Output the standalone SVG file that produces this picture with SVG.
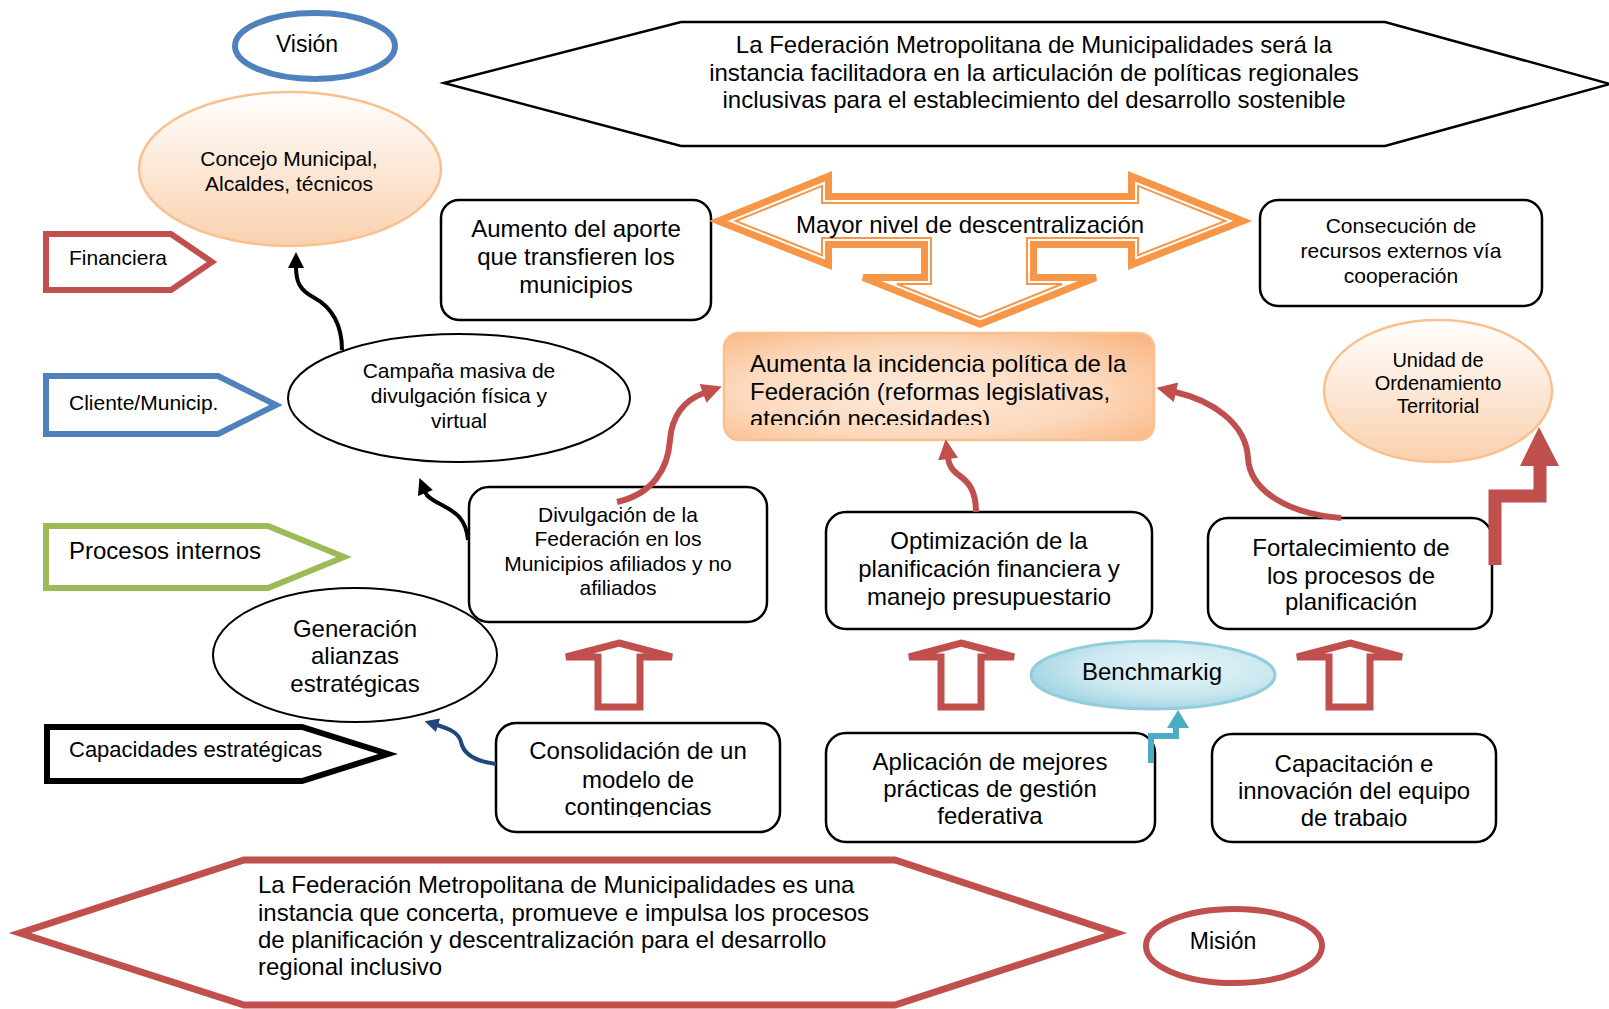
<svg xmlns="http://www.w3.org/2000/svg" width="1609" height="1009" viewBox="0 0 1609 1009">
<defs>
<style>
.t{font-family:"Liberation Sans",Arial,Helvetica,sans-serif;fill:#000}
.c{text-anchor:middle}
.box{fill:#fff;stroke:#000;stroke-width:2.5}
.ell{fill:#fff;stroke:#000;stroke-width:2}
.peach{fill:url(#gPeach);stroke:#FAC08F;stroke-width:2.5}
.tab{fill:#fff;stroke-width:6;stroke-linejoin:miter}
.up{fill:#fff;stroke:#C0504D;stroke-width:7;stroke-linejoin:miter}
.cv{fill:none;stroke-linecap:butt}
.f21{font-size:21px}
.f22{font-size:22px}
.f23{font-size:23px}
.f24{font-size:24px}
</style>
<linearGradient id="gPeach" x1="0" y1="0" x2="0" y2="1"><stop offset="0" stop-color="#FFFFFF"/><stop offset="1" stop-color="#FAD0AD"/></linearGradient>
<radialGradient id="gAum" cx="0.45" cy="0.55" r="0.75"><stop offset="0" stop-color="#FEEADB"/><stop offset="0.55" stop-color="#FCD9BD"/><stop offset="1" stop-color="#F9B47F"/></radialGradient>
<radialGradient id="gBench" cx="0.6" cy="0.4" r="0.65"><stop offset="0" stop-color="#E6F4F8"/><stop offset="0.6" stop-color="#CBE8F0"/><stop offset="1" stop-color="#9DD3E1"/></radialGradient>
<marker id="mBlk" markerUnits="userSpaceOnUse" markerWidth="18" markerHeight="18" refX="1" refY="8" orient="auto" overflow="visible"><path d="M0,0 L16,8 L0,16 Z" fill="#000"/></marker>
<marker id="mRed" markerUnits="userSpaceOnUse" markerWidth="22" markerHeight="22" refX="1" refY="10" orient="auto" overflow="visible"><path d="M0,0 L20,10 L0,20 Z" fill="#C0504D"/></marker>
<marker id="mBlu" markerUnits="userSpaceOnUse" markerWidth="16" markerHeight="16" refX="1" refY="7" orient="auto" overflow="visible"><path d="M0,0 L14,7 L0,14 Z" fill="#1F497D"/></marker>
<clipPath id="clipAum"><rect x="724" y="333" width="430" height="92"/></clipPath>
<clipPath id="clipCons"><rect x="496" y="723" width="284" height="94"/></clipPath>
<clipPath id="clipCap"><rect x="1212" y="734" width="284" height="93"/></clipPath>
</defs>

<rect x="0" y="0" width="1609" height="1009" fill="#fff"/>

<g id="vision-statement">
<polygon points="444,83 681,22 1385,22 1610,84 1385,146 681,146" fill="#fff" stroke="#000" stroke-width="2.5"/>
<text class="t c f24"><tspan x="1034" y="53">La Federación Metropolitana de Municipalidades será la</tspan><tspan x="1034" y="81">instancia facilitadora en la articulación de políticas regionales</tspan><tspan x="1034" y="108">inclusivas para el establecimiento del desarrollo sostenible</tspan></text>
</g>

<g id="vision-label">
<ellipse cx="315" cy="46" rx="80" ry="33" fill="#fff" stroke="#4F81BD" stroke-width="6"/>
<text class="t c f23" x="307" y="52">Visión</text>
</g>

<g id="concejo">
<ellipse class="peach" cx="290" cy="169" rx="151" ry="77"/>
<text class="t c f21"><tspan x="289" y="166">Concejo Municipal,</tspan><tspan x="289" y="191">Alcaldes, técnicos</tspan></text>
</g>

<g id="financiera">
<polygon class="tab" stroke="#C0504D" points="46,234 171,234 212,262 171,290 46,290"/>
<text class="t f21" x="69" y="265">Financiera</text>
</g>

<g id="cliente">
<polygon class="tab" stroke="#4F81BD" points="46,376 218,376 276,405 218,434 46,434"/>
<text class="t f21" x="69" y="410">Cliente/Municip.</text>
</g>

<g id="procesos">
<polygon class="tab" stroke="#9BBB59" points="46,526 268,526 344,557 268,588 46,588"/>
<text class="t f24" x="69" y="559">Procesos internos</text>
</g>

<g id="capacidades">
<polygon class="tab" stroke="#000" stroke-width="7" points="47,727 302,727 388,754 302,781 47,781"/>
<text class="t f22" x="69" y="757">Capacidades estratégicas</text>
</g>

<g id="aumento-aporte">
<rect class="box" x="441" y="200" width="270" height="120" rx="18"/>
<text class="t c f24"><tspan x="576" y="237">Aumento del aporte</tspan><tspan x="576" y="265">que transfieren los</tspan><tspan x="576" y="293">municipios</tspan></text>
</g>

<g id="descentralizacion">
<path d="M718.3,221 L828.5,176.2 L828.5,196.5 L1131.5,196.5 L1131.5,176.2 L1242.7,221 L1131.5,264.8 L1131.5,244.5 L1033.5,244.5 L1033.5,277.5 L1095.8,277.5 L980,324.2 L863.2,277.5 L924.5,277.5 L924.5,244.5 L828.5,244.5 L828.5,264.8 Z" fill="#fff" stroke="#F79646" stroke-width="7" stroke-linejoin="miter"/>
<path d="M735.7,221 L822,185.9 L822,203 L1138,203 L1138,185.9 L1225.3,221 L1138,255.2 L1138,238 L1027,238 L1027,284 L1062.1,284 L980,317.2 L896.9,284 L931,284 L931,238 L822,238 L822,255.2 Z" fill="none" stroke="#F79646" stroke-width="2" stroke-linejoin="miter"/>
<text class="t c" style="font-size:24px" x="970" y="233">Mayor nivel de descentralización</text>
</g>

<g id="consecucion">
<rect class="box" x="1260" y="200" width="282" height="106" rx="18"/>
<text class="t c f21"><tspan x="1401" y="233">Consecución de</tspan><tspan x="1401" y="258">recursos externos vía</tspan><tspan x="1401" y="283">cooperación</tspan></text>
</g>

<g id="incidencia">
<rect x="724" y="333" width="430" height="107" rx="15" fill="url(#gAum)" stroke="#FAC08F" stroke-width="2.5"/>
<text class="t f24" clip-path="url(#clipAum)"><tspan x="750" y="372">Aumenta la incidencia política de la</tspan><tspan x="750" y="400">Federación (reformas legislativas,</tspan><tspan x="750" y="427">atención necesidades)</tspan></text>
</g>

<g id="unidad">
<ellipse class="peach" cx="1438" cy="391" rx="114" ry="71"/>
<text class="t c" style="font-size:20px"><tspan x="1438" y="367">Unidad de</tspan><tspan x="1438" y="390">Ordenamiento</tspan><tspan x="1438" y="413">Territorial</tspan></text>
</g>

<g id="campana">
<ellipse class="ell" cx="459" cy="398" rx="171" ry="64"/>
<text class="t c f21"><tspan x="459" y="378">Campaña masiva de</tspan><tspan x="459" y="403">divulgación física y</tspan><tspan x="459" y="428">virtual</tspan></text>
</g>

<g id="divulgacion">
<rect class="box" x="469" y="487" width="298" height="135" rx="20"/>
<text class="t c f21"><tspan x="618" y="522">Divulgación de la</tspan><tspan x="618" y="546">Federación en los</tspan><tspan x="618" y="571">Municipios afiliados y no</tspan><tspan x="618" y="595">afiliados</tspan></text>
</g>

<g id="optimizacion">
<rect class="box" x="826" y="512" width="326" height="117" rx="20"/>
<text class="t c f24"><tspan x="989" y="549">Optimización de la</tspan><tspan x="989" y="577">planificación financiera y</tspan><tspan x="989" y="605">manejo presupuestario</tspan></text>
</g>

<g id="fortalecimiento">
<rect class="box" x="1208" y="518" width="284" height="111" rx="20"/>
<text class="t c f24"><tspan x="1351" y="556">Fortalecimiento de</tspan><tspan x="1351" y="584">los procesos de</tspan><tspan x="1351" y="610">planificación</tspan></text>
</g>

<g id="generacion">
<ellipse class="ell" cx="355" cy="655" rx="142" ry="67"/>
<text class="t c f24"><tspan x="355" y="637">Generación</tspan><tspan x="355" y="664">alianzas</tspan><tspan x="355" y="692">estratégicas</tspan></text>
</g>

<g id="benchmarkig">
<ellipse cx="1153" cy="675" rx="122" ry="34" fill="url(#gBench)" stroke="#93CDDD" stroke-width="3"/>
<text class="t c f24" x="1152" y="680">Benchmarkig</text>
</g>

<g id="consolidacion">
<rect class="box" x="496" y="723" width="284" height="109" rx="20"/>
<text class="t c f24" clip-path="url(#clipCons)"><tspan x="638" y="759">Consolidación de un</tspan><tspan x="638" y="788">modelo de</tspan><tspan x="638" y="815">contingencias</tspan></text>
</g>

<g id="aplicacion">
<rect class="box" x="826" y="733" width="329" height="109" rx="20"/>
<text class="t c f24"><tspan x="990" y="770">Aplicación de mejores</tspan><tspan x="990" y="797">prácticas de gestión</tspan><tspan x="990" y="824">federativa</tspan></text>
</g>

<g id="capacitacion">
<rect class="box" x="1212" y="734" width="284" height="108" rx="20"/>
<text class="t c f24" clip-path="url(#clipCap)"><tspan x="1354" y="772">Capacitación e</tspan><tspan x="1354" y="799">innovación del equipo</tspan><tspan x="1354" y="826">de trabajo</tspan></text>
</g>

<g id="mission-statement">
<polygon points="20,933 244,860 895,860 1116,933 895,1005 244,1005" fill="#fff" stroke="#C0504D" stroke-width="7" stroke-linejoin="miter"/>
<text class="t f24"><tspan x="258" y="893">La Federación Metropolitana de Municipalidades es una</tspan><tspan x="258" y="921">instancia que concerta, promueve e impulsa los procesos</tspan><tspan x="258" y="948">de planificación y descentralización para el desarrollo</tspan><tspan x="258" y="975">regional inclusivo</tspan></text>
</g>

<g id="mision-label">
<ellipse cx="1234" cy="946" rx="88" ry="37" fill="#fff" stroke="#C0504D" stroke-width="6"/>
<text class="t c f23" x="1223" y="949">Misión</text>
</g>

<g id="connectors">
<path class="cv" d="M342,350 C342,320 328,305 313,297 C300,290 296,282 296,267" stroke="#000" stroke-width="4" marker-end="url(#mBlk)"/>
<path class="cv" d="M468,540 C466,518 455,512 442,505 C432,500 427,497 425,492" stroke="#000" stroke-width="4" marker-end="url(#mBlk)"/>
<path class="cv" d="M617,502 C652,494 668,470 670,440 C672,415 685,400 704,393" stroke="#C0504D" stroke-width="6" marker-end="url(#mRed)"/>
<path class="cv" d="M976,512 C976,490 968,482 960,476 C952,470 949,466 948,458" stroke="#C0504D" stroke-width="6" marker-end="url(#mRed)"/>
<path class="cv" d="M1341,518 C1290,514 1250,492 1248,458 C1246,422 1210,400 1175,392" stroke="#C0504D" stroke-width="6" marker-end="url(#mRed)"/>
<path class="cv" d="M496,764 C472,761 463,752 461,742 C459,733 450,729 437,725" stroke="#1F497D" stroke-width="4" marker-end="url(#mBlu)"/>
<path d="M1495,565 V496 H1540 V463" fill="none" stroke="#C0504D" stroke-width="13" stroke-linejoin="miter"/>
<polygon points="1520,466 1559,466 1539,427" fill="#C0504D"/>
<path d="M1151,763 V736 H1176 V727" fill="none" stroke="#4BACC6" stroke-width="6" stroke-linejoin="miter"/>
<polygon points="1167,728 1189,728 1178,710" fill="#4BACC6"/>
<polygon class="up" points="619,643 672,657 640,657 640,707 598,707 598,657 566,657"/>
<polygon class="up" points="961,643 1014,657 981,657 981,707 941,707 941,657 909,657"/>
<polygon class="up" points="1350,643 1402,657 1370,657 1370,707 1329,707 1329,657 1297,657"/>
</g>
</svg>
